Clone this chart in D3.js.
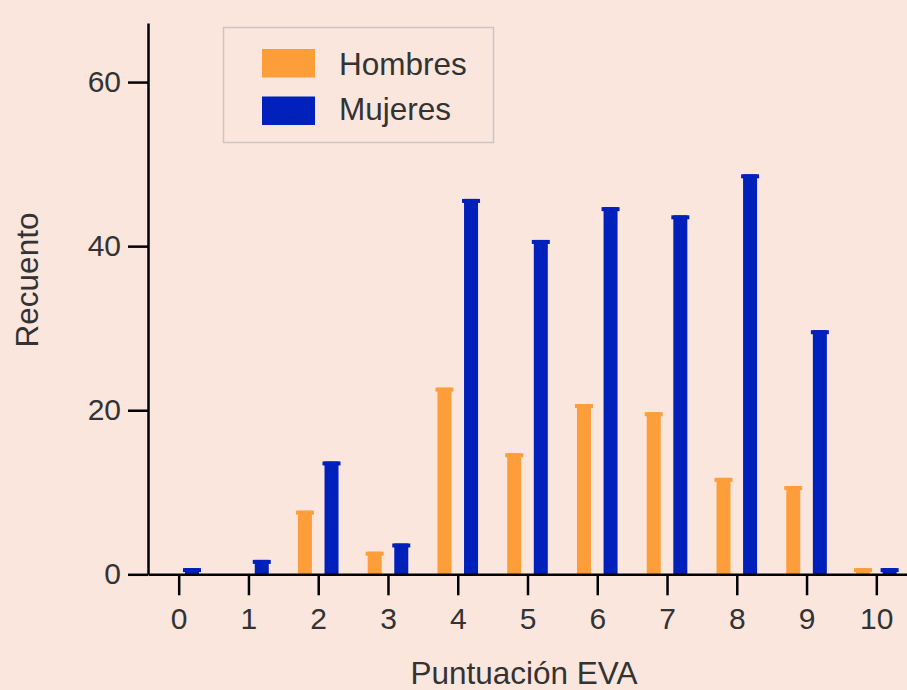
<!DOCTYPE html>
<html>
<head>
<meta charset="utf-8">
<script src="https://cdn.jsdelivr.net/npm/d3@7"></script>
<style>
  body { margin: 0; background: #fbe6de; }
  svg { display: block; font-family: "Liberation Sans", Arial, sans-serif; }
</style>
</head>
<body>
<svg id="chart" width="907" height="690"></svg>
<script>
// data
const scores = [0, 1, 2, 3, 4, 5, 6, 7, 8, 9, 10]
const hombres = [0, 0, 8, 3, 23, 15, 21, 20, 12, 11, 1]
const mujeres = [1, 2, 14, 4, 46, 41, 45, 44, 49, 30, 1]
const yTicks = [0, 20, 40, 60]
const seriesNames = ["Hombres", "Mujeres"]
const seriesColors = ["#fe9e3b", "#0020bb"]

const svg = d3.select("#chart")
svg.append("rect").attr("width", 907).attr("height", 690).attr("fill", "#fbe6de")

const x = d3.scaleLinear().domain([-0.44, 10.44]).range([148, 907])
const y = d3.scaleLinear().domain([0, 67.2]).range([574.3, 23])

// bars
let series = [hombres, mujeres]
let offsets = [-13.3, 13.3]
series.forEach((vals, i) => {
    let g = svg.append("g").attr("fill", seriesColors[i])
    let data = scores.map((s, j) => ({ s: s, v: vals[j] })).filter(d => d.v > 0)
    // body
    g.selectAll("rect.body").data(data).join("rect")
        .attr("class", "body")
        .attr("x", d => x(d.s) + offsets[i] - 7)
        .attr("width", 14)
        .attr("y", d => y(d.v) + 2)
        .attr("height", d => y(0) - y(d.v) - 2)
    // little cap on top
    g.selectAll("rect.cap").data(data).join("rect")
        .attr("class", "cap")
        .attr("x", d => x(d.s) + offsets[i] - 9)
        .attr("width", 18)
        .attr("y", d => y(d.v) + 2)
        .attr("height", 4)
})

// axes
let axisx = d3.axisBottom(x).tickValues(scores).tickFormat(d3.format("d"))
    .tickSize(21).tickSizeOuter(0).tickPadding(12)
let axisy = d3.axisLeft(y).tickValues(yTicks).tickSize(20).tickSizeOuter(0).tickPadding(7)

let gx = svg.append("g").attr("transform", `translate(0,${y(0)})`).call(axisx)
let gy = svg.append("g").attr("transform", `translate(148,0)`).call(axisy)
;[gx, gy].forEach(g => {
    g.select(".domain").attr("stroke", "#000").attr("stroke-width", 2.5)
    g.selectAll(".tick line").attr("stroke", "#000").attr("stroke-width", 2.5)
    g.selectAll(".tick text").attr("fill", "#333").style("font-size", "30px")
        .style("font-family", "'Liberation Sans', Arial, sans-serif")
})

// axis titles
svg.append("text").attr("x", 524).attr("y", 684).attr("text-anchor", "middle")
    .attr("fill", "#333").style("font-size", "31.5px").text("Puntuación EVA")
svg.append("text").attr("transform", "translate(38,280) rotate(-90)").attr("text-anchor", "middle")
    .attr("fill", "#333").style("font-size", "31.5px").text("Recuento")

// legend
let lg = svg.append("g")
lg.append("rect").attr("x", 223.5).attr("y", 27.5).attr("width", 270).attr("height", 115)
    .attr("fill", "none").attr("stroke", "#cbc6c4").attr("stroke-width", 1.5)
seriesNames.forEach((name, i) => {
    lg.append("rect").attr("x", 262).attr("y", 49 + i * 47.5).attr("width", 53).attr("height", 28.5)
        .attr("fill", seriesColors[i])
    lg.append("text").attr("x", 339).attr("y", 75 + i * 45).attr("fill", "#333")
        .style("font-size", "31.5px").text(name)
})
</script>
</body>
</html>
